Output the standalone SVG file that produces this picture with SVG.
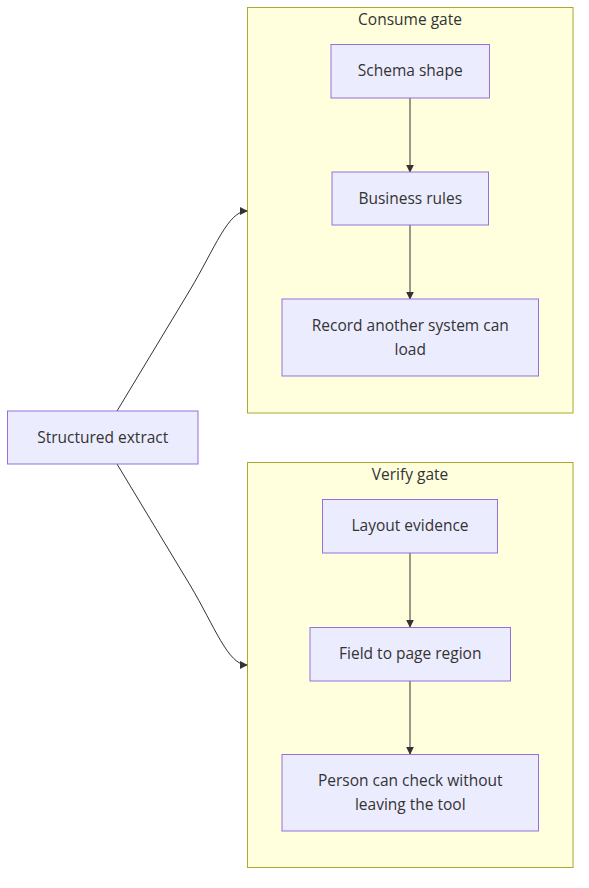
<svg xmlns="http://www.w3.org/2000/svg" width="589" height="888" viewBox="0 0 589 888">
<style>
text{font-family:"Trebuchet MS","Open Sans","DejaVu Sans",sans-serif;font-size:15.5px;fill:#333333;text-anchor:middle;dominant-baseline:central}
.node rect{fill:#ECECFF;stroke:#9370DB;stroke-width:1}
.cluster rect{fill:#ffffde;stroke:#aaaa33;stroke-width:1}
.edge{fill:none;stroke:#333333;stroke-width:1;marker-end:url(#arrow)}
</style>
<defs>
<marker id="arrow" viewBox="0 0 10 10" refX="9" refY="5" markerWidth="8" markerHeight="8" markerUnits="userSpaceOnUse" orient="auto">
<path d="M0,0 L10,5 L0,10 z" fill="#333333"/>
</marker>
</defs>
<rect width="589" height="888" fill="#ffffff"/>
<g id="cluster-consume" class="cluster">
<rect x="247.5" y="7.5" width="325.5" height="405.5"/>
<text x="410" y="19">Consume gate</text>
</g>
<g id="cluster-verify" class="cluster">
<rect x="247.5" y="462.5" width="325.5" height="405"/>
<text x="410" y="474">Verify gate</text>
</g>
<g id="connectors">
<path class="edge" d="M117,411 L190,290 C215,248 228,211 247,211"/>
<path class="edge" d="M117,464 L190,585 C215,627 228,665 247,665"/>
<path class="edge" d="M410,98 L410,172"/>
<path class="edge" d="M410,225 L410,299"/>
<path class="edge" d="M410,553 L410,627"/>
<path class="edge" d="M410,681 L410,754"/>
</g>
<g id="node-extract" class="node">
<rect x="7.5" y="411" width="190.5" height="53"/>
<text x="102.75" y="436.5">Structured extract</text>
</g>
<g id="node-schema" class="node">
<rect x="331" y="44.5" width="158.5" height="53.5"/>
<text x="410.25" y="70">Schema shape</text>
</g>
<g id="node-business" class="node">
<rect x="332" y="172" width="156.5" height="53"/>
<text x="410.25" y="197.5">Business rules</text>
</g>
<g id="node-record" class="node">
<rect x="282" y="299" width="256.5" height="77"/>
<text x="410.25" y="325">Record another system can</text>
<text x="410.25" y="349">load</text>
</g>
<g id="node-layout" class="node">
<rect x="322.5" y="499.5" width="175" height="53.5"/>
<text x="410" y="525">Layout evidence</text>
</g>
<g id="node-field" class="node">
<rect x="310" y="627.5" width="200.5" height="53.5"/>
<text x="410.25" y="653">Field to page region</text>
</g>
<g id="node-person" class="node">
<rect x="282" y="754.5" width="256.5" height="76.5"/>
<text x="410.25" y="780">Person can check without</text>
<text x="410.25" y="804">leaving the tool</text>
</g>
</svg>
